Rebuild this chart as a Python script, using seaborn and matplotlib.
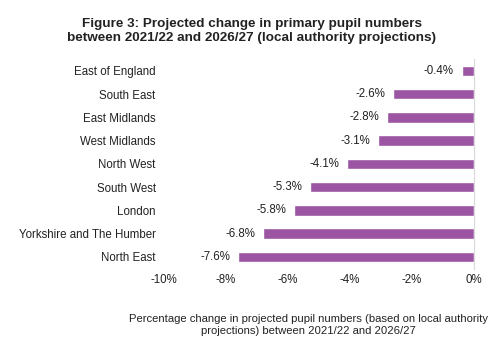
import matplotlib
matplotlib.use("Agg")
import matplotlib.pyplot as plt
import seaborn as sns
import pandas as pd

# Dados do gráfico
regions = ["East of England", "South East", "East Midlands", "West Midlands",
           "North West", "South West", "London", "Yorkshire and The Humber",
           "North East"]
change = [-0.4, -2.6, -2.8, -3.1, -4.1, -5.3, -5.8, -6.8, -7.6]
xticks = [-10, -8, -6, -4, -2, 0]

df = pd.DataFrame({"region": regions, "change": change})

sns.set_style("white")
plt.rcParams["font.family"] = ["Liberation Sans", "DejaVu Sans"]

fig = plt.figure(figsize=(5, 3.51), dpi=100)
ax = fig.add_axes([0.328, 0.235, 0.62, 0.596])

sns.barplot(data=df, x="change", y="region", color="#9B55A2", width=0.45,
            saturation=1, ax=ax)

for i, v in enumerate(change):
    ax.text(v - 0.25, i, f"{v:.1f}%", ha="right", va="center", fontsize=8.3,
            color="#222222")

ax.set_xlim(-10, 0)
ax.set_xticks(xticks)
ax.set_xticklabels([f"{t}%" for t in xticks], fontsize=8.3, color="#222222")
ax.tick_params(axis="y", labelsize=8.3, colors="#222222", length=0, pad=6)
ax.tick_params(axis="x", length=0, pad=4)
ax.set_ylabel("")
ax.set_xlabel("")
for s in ["top", "bottom", "left"]:
    ax.spines[s].set_visible(False)
ax.spines["right"].set_color("#d9d9d9")
ax.spines["right"].set_linewidth(0.8)

fig.text(0.503, 0.912, "Figure 3: Projected change in primary pupil numbers\n"
         "between 2021/22 and 2026/27 (local authority projections)",
         ha="center", va="center", fontsize=9.7, fontweight="bold",
         color="#222222", linespacing=1.3)

fig.text(0.617, 0.074, "Percentage change in projected pupil numbers (based on local authority\n"
         "projections) between 2021/22 and 2026/27",
         ha="center", va="center", fontsize=8.1, color="#222222", linespacing=1.2)

fig.savefig("out.png", dpi=100)
